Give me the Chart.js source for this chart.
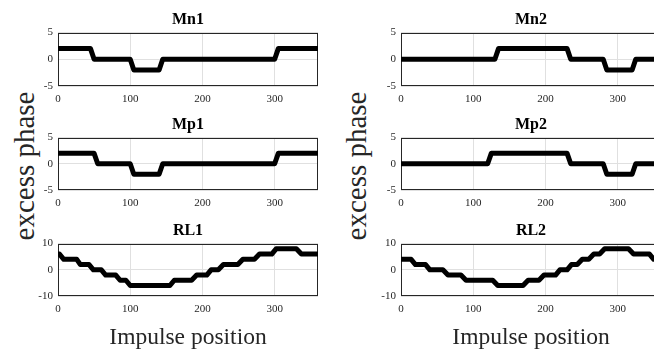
<!DOCTYPE html>
<html>
<head>
<meta charset="utf-8">
<script src="https://cdn.jsdelivr.net/npm/chart.js@4/dist/chart.umd.min.js"></script>
<style>
  html, body { margin: 0; padding: 0; background: #fff; overflow: hidden; }
  body { width: 654px; height: 352px; position: relative; }
  canvas.panel { position: absolute; }
  .ylab {
    position: absolute;
    font-family: "Liberation Serif", "Times New Roman", serif;
    font-size: 29px;
    line-height: 1;
    color: #262626;
    white-space: nowrap;
    transform: translate(-50%, -50%) rotate(-90deg);
  }
</style>
</head>
<body>
<div class="ylab" style="left:24px; top:166px;">excess phase</div>
<div class="ylab" style="left:356px; top:166px;">excess phase</div>
<script>
// ---- data: impulse position vs excess phase ----
const mn1Pos = [0, 45, 50, 100, 105, 140, 145, 300, 305, 360];
const mn1Val = [2, 2, 0, 0, -2, -2, 0, 0, 2, 2];

const mn2Pos = [0, 130, 135, 230, 235, 280, 285, 320, 325, 360];
const mn2Val = [0, 0, 2, 2, 0, 0, -2, -2, 0, 0];

const mp1Pos = [0, 50, 55, 100, 105, 140, 145, 300, 305, 360];
const mp1Val = [2, 2, 0, 0, -2, -2, 0, 0, 2, 2];

const mp2Pos = [0, 120, 125, 230, 235, 280, 285, 320, 325, 360];
const mp2Val = [0, 0, 2, 2, 0, 0, -2, -2, 0, 0];

const rl1Pos = [0, 2, 8, 26, 31, 43, 49, 60, 66, 80, 86, 94, 100, 155, 161, 185, 192,
                206, 212, 222, 229, 249, 256, 272, 279, 296, 302, 330, 337, 360];
const rl1Val = [6, 6, 4, 4, 2, 2, 0, 0, -2, -2, -4, -4, -6, -6, -4, -4, -2,
                -2, 0, 0, 2, 2, 4, 4, 6, 6, 8, 8, 6, 6];

const rl2Pos = [0, 14, 20, 34, 40, 58, 65, 83, 90, 127, 134, 169, 176, 191, 198,
                214, 220, 230, 236, 244, 251, 260, 267, 275, 282, 315, 322, 344, 350, 360];
const rl2Val = [4, 4, 2, 2, 0, 0, -2, -2, -4, -4, -6, -6, -4, -4, -2,
                -2, 0, 0, 2, 2, 4, 4, 6, 6, 8, 8, 6, 6, 4, 4];

const titles = ["Mn1", "Mn2", "Mp1", "Mp2", "RL1", "RL2"];
const xLabel = "Impulse position";

// ---- figure layout (pixels) ----
const FONT = '"Liberation Serif", "Times New Roman", serif';
const INK = "#262626";
const GRID = "#e0e0e0";
const COL_LEFT = [58, 401];
const ROW_TOP = [33, 138, 244];
const ROW_H = [53, 52, 52];
const PLOT_W = 260;
const Y_AXIS_W = 40;
const TITLE_SIZE = 16;
const TITLE_PAD = 3.4;
const TITLE_H = TITLE_SIZE * 1.2 + TITLE_PAD;
const X_AXIS_H = 22;
const X_AXIS_H_LAST = 56;

// matlab-style closed box around each axes
const boxBorder = {
  id: "boxBorder",
  beforeDatasetsDraw(chart) {
    const { ctx, chartArea: a } = chart;
    ctx.save();
    ctx.strokeStyle = INK;
    ctx.lineWidth = 1;
    ctx.strokeRect(Math.round(a.left) + 0.5, Math.round(a.top) + 0.5,
                   Math.round(a.width) - 1, Math.round(a.height) - 1);
    ctx.restore();
  }
};

function toPoints(xs, ys) {
  return xs.map((x, i) => ({ x, y: ys[i] }));
}

function makePanel(idx, xs, ys, yLim) {
  const col = idx % 2;
  const row = Math.floor(idx / 2);
  const last = row === 2;
  const xAxisH = last ? X_AXIS_H_LAST : X_AXIS_H;

  const canvas = document.createElement("canvas");
  canvas.className = "panel";
  canvas.width = Y_AXIS_W + PLOT_W + 2;
  canvas.height = Math.round(TITLE_H + ROW_H[row] + xAxisH);
  canvas.style.left = (COL_LEFT[col] - Y_AXIS_W) + "px";
  canvas.style.top = (ROW_TOP[row] - TITLE_H) + "px";
  document.body.appendChild(canvas);

  new Chart(canvas.getContext("2d"), {
    type: "line",
    data: {
      datasets: [{
        data: toPoints(xs, ys),
        borderColor: "#000",
        borderWidth: 5,
        borderJoinStyle: "round",
        pointRadius: 0,
        tension: 0
      }]
    },
    options: {
      responsive: false,
      animation: false,
      layout: { padding: { left: 0, right: 2, top: 0, bottom: 0 } },
      plugins: {
        legend: { display: false },
        tooltip: { enabled: false },
        title: {
          display: true,
          text: titles[idx],
          fullSize: false,
          color: "#000",
          font: { family: FONT, size: TITLE_SIZE, weight: "bold" },
          padding: { top: 0, bottom: TITLE_PAD }
        }
      },
      scales: {
        x: {
          type: "linear",
          min: 0,
          max: 360,
          border: { display: false },
          grid: { color: GRID, drawTicks: false },
          ticks: { stepSize: 100, includeBounds: false, color: INK, padding: 7,
                   font: { family: FONT, size: 11 }, maxRotation: 0 },
          title: {
            display: last,
            text: xLabel,
            color: INK,
            font: { family: FONT, size: 23.5 },
            padding: { top: 0, bottom: 0 }
          },
          afterFit: (s) => { s.height = xAxisH; }
        },
        y: {
          min: -yLim,
          max: yLim,
          border: { display: false },
          grid: { color: GRID, drawTicks: false },
          ticks: { stepSize: yLim, color: INK, padding: 5,
                   font: { family: FONT, size: 11 } },
          afterFit: (s) => { s.width = Y_AXIS_W; }
        }
      }
    },
    plugins: [boxBorder]
  });
}

makePanel(0, mn1Pos, mn1Val, 5);
makePanel(1, mn2Pos, mn2Val, 5);
makePanel(2, mp1Pos, mp1Val, 5);
makePanel(3, mp2Pos, mp2Val, 5);
makePanel(4, rl1Pos, rl1Val, 10);
makePanel(5, rl2Pos, rl2Val, 10);
</script>
</body>
</html>
